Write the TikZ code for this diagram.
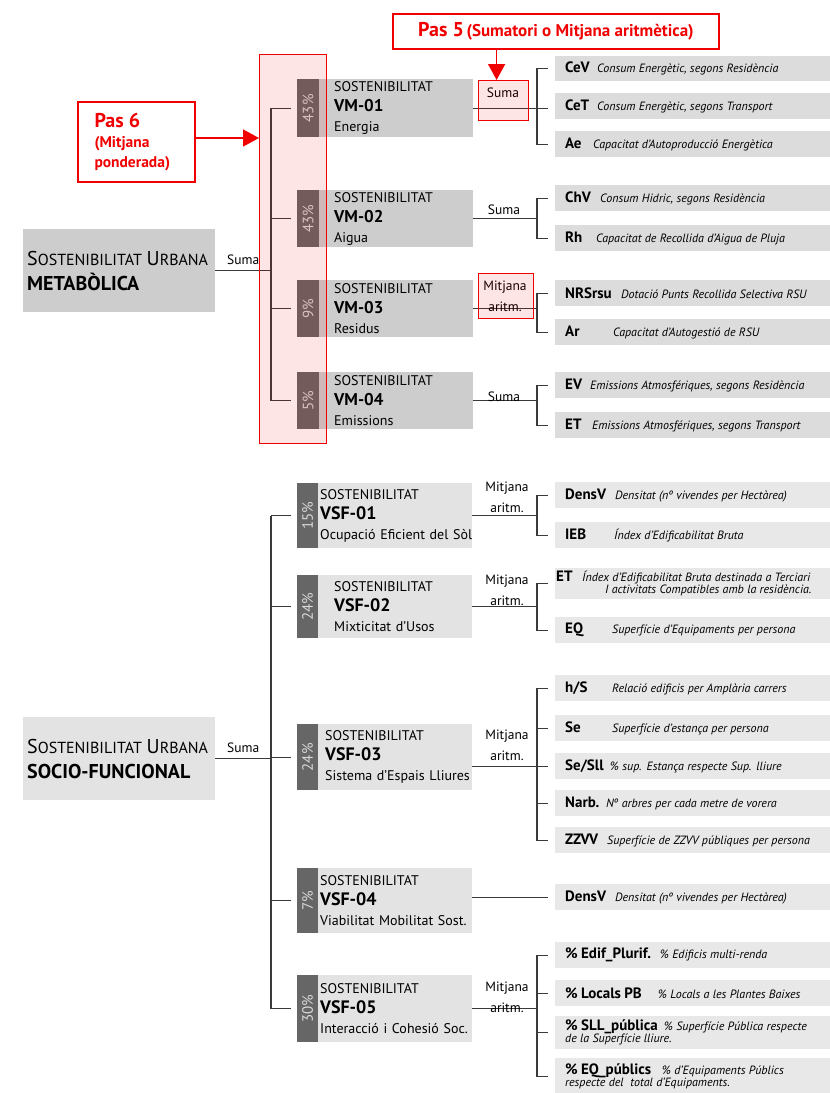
\documentclass[tikz,border=0pt]{standalone}
\usepackage{fontspec}
\usepackage{graphicx}
\setmainfont{PT Sans}
\usetikzlibrary{arrows.meta}
\definecolor{lineg}{HTML}{3A3A3A}
\definecolor{boxmeta}{HTML}{CDCDCD}
\definecolor{itemmeta}{HTML}{DCDCDC}
\definecolor{boxsocio}{HTML}{E3E3E3}
\definecolor{itemsocio}{HTML}{E8E8E8}
\definecolor{pctgray}{HTML}{666666}
\definecolor{pasred}{HTML}{F00000}
\newcommand{\itemcode}[2]{\makebox[#1][l]{\fontsize{15}{16}\selectfont\bfseries #2}}
\newcommand{\itemdesc}[1]{\mbox{\fontsize{12}{14}\selectfont\itshape #1}}
\newcommand{\scfake}[2]{{\fontsize{20}{25}\selectfont #1}{\fontsize{16}{25}\selectfont #2}}

\begin{document}
\begin{tikzpicture}[x=1pt,y=-1pt,
    conn/.style={draw=lineg, line width=1.3pt},
    mainbox/.style={fill=#1, anchor=north west, minimum width=192pt, minimum height=83pt,
      text width=184pt, inner xsep=4pt, align=left, font=\fontsize{14}{25}\selectfont},
    vmbox/.style={fill=#1, anchor=north west, align=left, inner ysep=0pt,
      font=\fontsize{14}{20}\selectfont},
    pctbox/.style={fill=pctgray, text=white!85!black, anchor=north west, inner sep=0pt,
      font=\fontsize{15}{15}\selectfont},
    itembox/.style={fill=#1, anchor=north west, minimum width=275pt, minimum height=26pt,
      text width=255pt, inner xsep=10pt, inner ysep=1pt, align=left},
    lbl/.style={font=\fontsize{13.5}{21}\selectfont, align=center, inner sep=0pt},
    redmark/.style={draw=pasred, line width=1.2pt, fill=pasred, fill opacity=0.1,
      anchor=north west, inner sep=0pt},
    redbox/.style={draw=pasred, line width=2pt, fill=white, text=pasred, anchor=north west},
    redarrow/.style={draw=pasred, line width=1.5pt, -{Triangle[length=16pt,width=17pt]}}]
  \useasboundingbox (0,0) rectangle (830,1093);

  % Sostenibilitat urbana metabolica
  \node[mainbox=boxmeta] (meta) at (23,229)
    {\scfake{S}{OSTENIBILITAT} \scfake{U}{RBANA}\\{\fontsize{20}{25}\selectfont\bfseries METABÒLICA}};
  \node[vmbox=boxmeta, minimum height=58pt, text width=124pt, inner xsep=15pt] (vm1) at (319,79)
    {SOSTENIBILITAT\\{\fontsize{17}{20}\selectfont\bfseries VM-01}\\Energia};
  \node[vmbox=boxmeta, minimum height=57pt, text width=124pt, inner xsep=15pt] (vm2) at (319,190)
    {SOSTENIBILITAT\\{\fontsize{17}{20}\selectfont\bfseries VM-02}\\Aigua};
  \node[vmbox=boxmeta, minimum height=57pt, text width=124pt, inner xsep=15pt] (vm3) at (319,280)
    {SOSTENIBILITAT\\{\fontsize{17}{20}\selectfont\bfseries VM-03}\\Residus};
  \node[vmbox=boxmeta, minimum height=57pt, text width=124pt, inner xsep=15pt] (vm4) at (319,372)
    {SOSTENIBILITAT\\{\fontsize{17}{20}\selectfont\bfseries VM-04}\\Emissions};
  \node[pctbox, minimum width=22pt, minimum height=58pt] (p1) at (297,79) {\rotatebox{90}{43\%}};
  \node[pctbox, minimum width=22pt, minimum height=57pt] (p2) at (297,190) {\rotatebox{90}{43\%}};
  \node[pctbox, minimum width=22pt, minimum height=57pt] (p3) at (297,280) {\rotatebox{90}{9\%}};
  \node[pctbox, minimum width=22pt, minimum height=57pt] (p4) at (297,372) {\rotatebox{90}{5\%}};

  \node[itembox=itemmeta, minimum height=25pt] (cev) at (555,56)
    {\itemcode{32pt}{CeV}\itemdesc{Consum Energètic, segons Residència}};
  \node[itembox=itemmeta] (cet) at (555,93)
    {\itemcode{32pt}{CeT}\itemdesc{Consum Energètic, segons Transport}};
  \node[itembox=itemmeta] (ae) at (555,131)
    {\itemcode{28pt}{Ae}\itemdesc{Capacitat d'Autoproducció Energètica}};
  \node[itembox=itemmeta] (chv) at (555,185)
    {\itemcode{35pt}{ChV}\itemdesc{Consum Hidric, segons Residència}};
  \node[itembox=itemmeta] (rh) at (555,225)
    {\itemcode{31pt}{Rh}\itemdesc{Capacitat de Recollida d'Aigua de Pluja}};
  \node[itembox=itemmeta] (nrs) at (555,280)
    {\itemcode{56pt}{NRSrsu}\itemdesc{Dotació Punts Recollida Selectiva RSU}};
  \node[itembox=itemmeta] (ar) at (555,319)
    {\itemcode{48pt}{Ar}\itemdesc{Capacitat d'Autogestió de RSU}};
  \node[itembox=itemmeta] (ev) at (555,372)
    {\itemcode{25pt}{EV}\itemdesc{Emissions Atmosfériques, segons Residència}};
  \node[itembox=itemmeta] (etm) at (555,412)
    {\itemcode{27pt}{ET}\itemdesc{Emissions Atmosfériques, segons Transport}};

  \coordinate (tm) at ([xshift=-26pt]p1.west);
  \draw[conn] (meta.east) -- node[lbl, above=5pt] (sm) {Suma} (meta.east -| tm);
  \draw[conn] (tm) -- (tm |- p4.west);
  \foreach \p in {p1,p2,p3,p4}
    \draw[conn] ([xshift=-6pt]\p.west) -- (tm |- \p.west);

  \draw[conn] (vm1.east) -- ([xshift=-7pt]cet.west |- vm1.east);
  \draw[conn] ([xshift=-7pt]cev.west) -- ++(-11,0) |- ([xshift=-7pt]ae.west);
  \draw[conn] (vm2.east) -- ([xshift=-18pt]chv.west |- vm2.east);
  \draw[conn] ([xshift=-7pt]chv.west) -- ++(-11,0) |- ([xshift=-7pt]rh.west);
  \draw[conn] (vm3.east) -- ([xshift=-18pt]nrs.west |- vm3.east);
  \draw[conn] ([xshift=-7pt]nrs.west) -- ++(-11,0) |- ([xshift=-7pt]ar.west);
  \draw[conn] (vm4.east) -- ([xshift=-18pt]ev.west |- vm4.east);
  \draw[conn] ([xshift=-7pt]ev.west) -- ++(-11,0) |- ([xshift=-7pt]etm.west);

  \node[lbl] (s1) at (503,93) {Suma};
  \node[lbl] (s2) at (504,210) {Suma};
  \node[lbl] (s3) at (505,296) {Mitjana\\aritm.};
  \node[lbl] (s4) at (504,397) {Suma};

  % Sostenibilitat urbana socio-funcional
  \node[mainbox=boxsocio] (socio) at (23,717)
    {\scfake{S}{OSTENIBILITAT} \scfake{U}{RBANA}\\{\fontsize{20}{25}\selectfont\bfseries SOCIO-FUNCIONAL}};
  \node[vmbox=boxsocio, minimum height=65pt, text width=150pt, inner xsep=2pt] (vsf1) at (318,483)
    {SOSTENIBILITAT\\{\fontsize{18}{21.5}\selectfont\bfseries VSF-01}\\\mbox{Ocupació Eficient del Sòl}};
  \node[vmbox=boxsocio, minimum height=63pt, text width=122pt, inner xsep=16pt] (vsf2) at (318,575)
    {SOSTENIBILITAT\\{\fontsize{18}{21.5}\selectfont\bfseries VSF-02}\\Mixticitat d'Usos};
  \node[vmbox=boxsocio, minimum height=66pt, text width=140pt, inner xsep=7pt] (vsf3) at (318,724)
    {SOSTENIBILITAT\\{\fontsize{18}{21.5}\selectfont\bfseries VSF-03}\\\mbox{Sistema d'Espais Lliures}};
  \node[vmbox=boxsocio, minimum height=65pt, text width=150pt, inner xsep=2pt] (vsf4) at (318,868)
    {SOSTENIBILITAT\\{\fontsize{18}{21.5}\selectfont\bfseries VSF-04}\\\mbox{Viabilitat Mobilitat Sost.}};
  \node[vmbox=boxsocio, minimum height=67pt, text width=150pt, inner xsep=2pt] (vsf5) at (318,975)
    {SOSTENIBILITAT\\{\fontsize{18}{21.5}\selectfont\bfseries VSF-05}\\\mbox{Interacció i Cohesió Soc.}};
  \node[pctbox, minimum width=21pt, minimum height=65pt] (q1) at (297,483) {\rotatebox{90}{15\%}};
  \node[pctbox, minimum width=21pt, minimum height=63pt] (q2) at (297,575) {\rotatebox{90}{24\%}};
  \node[pctbox, minimum width=21pt, minimum height=66pt] (q3) at (297,724) {\rotatebox{90}{24\%}};
  \node[pctbox, minimum width=21pt, minimum height=65pt] (q4) at (297,868) {\rotatebox{90}{7\%}};
  \node[pctbox, minimum width=21pt, minimum height=67pt] (q5) at (297,975) {\rotatebox{90}{30\%}};

  \node[itembox=itemsocio] (densa) at (555,482)
    {\itemcode{50pt}{DensV}\itemdesc{Densitat (nº vivendes per Hectàrea)}};
  \node[itembox=itemsocio] (ieb) at (555,522)
    {\itemcode{49pt}{IEB}\itemdesc{Índex d'Edificabilitat Bruta}};
  \node[itembox=itemsocio, minimum height=31pt, text width=273pt, inner xsep=1pt] (ets) at (555,568)
    {\itemcode{26pt}{ET}\itemdesc{Índex d'Edificabilitat Bruta destinada a Terciari}\\
     \hspace*{49pt}\itemdesc{I activitats Compatibles amb la residència.}};
  \node[itembox=itemsocio] (eq) at (555,617)
    {\itemcode{47pt}{EQ}\itemdesc{Superfície d'Equipaments per persona}};
  \node[itembox=itemsocio] (hs) at (555,675)
    {\itemcode{47pt}{h/S}\itemdesc{Relació edificis per Amplària carrers}};
  \node[itembox=itemsocio] (se) at (555,715)
    {\itemcode{47pt}{Se}\itemdesc{Superfície d'estança per persona}};
  \node[itembox=itemsocio] (sesll) at (555,753)
    {\itemcode{45pt}{Se/Sll}\itemdesc{\% sup. Estança respecte Sup. lliure}};
  \node[itembox=itemsocio] (narb) at (555,790)
    {\itemcode{41pt}{Narb.}\itemdesc{Nº arbres per cada metre de vorera}};
  \node[itembox=itemsocio] (zzvv) at (555,827)
    {\itemcode{42pt}{ZZVV}\itemdesc{Superfície de ZZVV públiques per persona}};
  \node[itembox=itemsocio] (densb) at (555,884)
    {\itemcode{50pt}{DensV}\itemdesc{Densitat (nº vivendes per Hectàrea)}};
  \node[itembox=itemsocio] (edif) at (555,942)
    {\itemcode{95pt}{\% Edif\_Plurif.}\itemdesc{\% Edificis multi-renda}};
  \node[itembox=itemsocio] (locals) at (555,980)
    {\itemcode{93pt}{\% Locals PB}\itemdesc{\% Locals a les Plantes Baixes}};
  \node[itembox=itemsocio, minimum height=33pt] (sll) at (555,1016)
    {\itemcode{99pt}{\% SLL\_pública}\itemdesc{\% Superfície Pública respecte}\\
     \itemdesc{de la Superfície lliure.}};
  \node[itembox=itemsocio, minimum height=36pt] (eqp) at (555,1058)
    {\itemcode{97pt}{\% EQ\_públics}\itemdesc{\% d'Equipaments Públics}\\
     \itemdesc{respecte del \ total d'Equipaments.}};

  \coordinate (ts) at ([xshift=-26pt]q1.west);
  \draw[conn] (socio.east) -- node[lbl, above=5pt] (ss) {Suma} (socio.east -| ts);
  \draw[conn] (ts) -- (ts |- q5.west);
  \foreach \q in {q1,q2,q3,q4,q5}
    \draw[conn] ([xshift=-6pt]\q.west) -- (ts |- \q.west);

  \draw[conn] (vsf1.east) -- ([xshift=-18pt]densa.west |- vsf1.east);
  \draw[conn] ([xshift=-7pt]densa.west) -- ++(-11,0) |- ([xshift=-7pt]ieb.west);
  \draw[conn] (vsf2.east) -- ([xshift=-18pt]ets.west |- vsf2.east);
  \draw[conn] ([xshift=-7pt]ets.west) -- ++(-11,0) |- ([xshift=-7pt]eq.west);
  \draw[conn] (vsf3.east |- sesll.west) -- ([xshift=-7pt]sesll.west);
  \draw[conn] ([xshift=-7pt]hs.west) -- ++(-11,0) |- ([xshift=-7pt]zzvv.west);
  \foreach \n in {se,narb}
    \draw[conn] ([xshift=-7pt]\n.west) -- ++(-11,0);
  \draw[conn] (vsf4.east |- densb.west) -- ([xshift=-7pt]densb.west);
  \draw[conn] (vsf5.east) -- ([xshift=-18pt]edif.west |- vsf5.east);
  \draw[conn] ([xshift=-7pt]edif.west) -- ++(-11,0) |- ([xshift=-7pt]eqp.west);
  \foreach \n in {locals,sll}
    \draw[conn] ([xshift=-7pt]\n.west) -- ++(-11,0);

  \node[lbl] (m1) at (507,497) {Mitjana\\aritm.};
  \node[lbl] (m2) at (507,590) {Mitjana\\aritm.};
  \node[lbl] (m3) at (507,745) {Mitjana\\aritm.};
  \node[lbl] (m5) at (507,997) {Mitjana\\aritm.};

  % Pas 5 i Pas 6
  \node[redmark, minimum width=67pt, minimum height=389pt] (zone6) at (259,54) {};
  \node[redmark, minimum width=50pt, minimum height=40pt] (r5) at (478,80) {};
  \node[redmark, minimum width=55pt, minimum height=45pt] (r5b) at (478,273) {};
  \node[redbox, minimum width=326pt, minimum height=35pt] (pas5) at (392,13)
    {{\fontsize{20}{22}\selectfont\bfseries Pas 5} {\fontsize{17}{18}\selectfont\bfseries(Sumatori o Mitjana aritmètica)}};
  \node[redbox, minimum width=117pt, minimum height=80pt, text width=84pt, inner xsep=16pt,
    align=left, font=\fontsize{15.5}{20}\selectfont\bfseries] (pas6) at (77,101)
    {{\fontsize{20}{27}\selectfont Pas 6}\\(Mitjana\\ponderada)};
  \coordinate (a5) at ([xshift=-7pt]r5.north);
  \draw[redarrow] (pas5.south -| a5) -- (a5);
  \draw[redarrow] ([yshift=4pt]pas6.east) -- ([yshift=4pt]pas6.east -| zone6.west);
\end{tikzpicture}
\end{document}
